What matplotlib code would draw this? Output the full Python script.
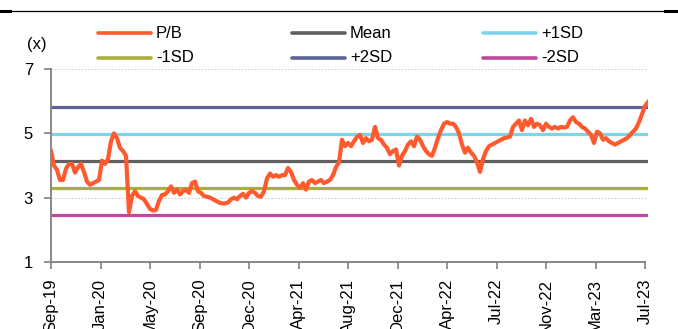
import matplotlib
matplotlib.use("Agg")
import matplotlib.pyplot as plt
import numpy as np
from matplotlib.lines import Line2D

plt.rcParams['font.family'] = ['Liberation Sans', 'DejaVu Sans']

# Weekly P/B readings, Sep-2019 .. Jul-2023
pb = [4.45, 4.0, 3.86, 3.55, 3.55, 3.9, 4.05, 4.05, 3.78, 3.95,
      4.05, 3.8, 3.5, 3.4, 3.45, 3.5, 3.55, 4.15, 4.05, 4.2,
      4.75, 5.0, 4.85, 4.55, 4.45, 4.3, 2.55, 3.05, 3.2, 3.05,
      3.0, 2.95, 2.8, 2.65, 2.6, 2.62, 2.9, 3.08, 3.1, 3.2,
      3.35, 3.15, 3.25, 3.1, 3.2, 3.25, 3.15, 3.45, 3.5, 3.2,
      3.15, 3.05, 3.03, 3.0, 2.95, 2.9, 2.85, 2.82, 2.82, 2.85,
      2.95, 3.0, 2.95, 3.05, 3.12, 3.0, 3.15, 3.2, 3.15, 3.05,
      3.03, 3.2, 3.6, 3.75, 3.65, 3.7, 3.65, 3.7, 3.7, 3.92,
      3.8, 3.55, 3.4, 3.3, 3.45, 3.25, 3.5, 3.55, 3.45, 3.5,
      3.55, 3.45, 3.5, 3.55, 3.7, 3.95, 4.1, 4.8, 4.6, 4.7,
      4.6, 4.75, 4.89, 4.95, 4.7, 4.85, 4.75, 4.8, 5.2, 4.85,
      4.8, 4.65, 4.55, 4.35, 4.45, 4.5, 4.0, 4.3, 4.45, 4.65,
      4.75, 4.6, 4.9, 4.8, 4.6, 4.45, 4.35, 4.3, 4.55, 4.85,
      5.1, 5.3, 5.35, 5.3, 5.3, 5.2, 5.0, 4.65, 4.4, 4.55,
      4.4, 4.3, 4.1, 3.8, 4.2, 4.45, 4.6, 4.65, 4.7, 4.75,
      4.8, 4.85, 4.87, 4.9, 5.2, 5.3, 5.4, 5.1, 5.4, 5.25,
      5.45, 5.2, 5.3, 5.25, 5.1, 5.3, 5.2, 5.15, 5.2, 5.15,
      5.2, 5.18, 5.2, 5.4, 5.5, 5.35, 5.3, 5.2, 5.15, 5.05,
      4.95, 4.7, 5.05, 5.0, 4.8, 4.85, 4.75, 4.7, 4.65, 4.7,
      4.75, 4.8, 4.85, 4.95, 5.05, 5.15, 5.35, 5.6, 5.85, 5.97]

mean_val = 4.15
sd_val = 0.84
bands = {
    'Mean': mean_val,
    '+1SD': mean_val + sd_val,
    '-1SD': mean_val - sd_val,
    '+2SD': mean_val + 2 * sd_val,
    '-2SD': mean_val - 2 * sd_val,
}
tick_labels = ['Sep-19', 'Jan-20', 'May-20', 'Sep-20', 'Dec-20', 'Apr-21',
               'Aug-21', 'Dec-21', 'Apr-22', 'Jul-22', 'Nov-22', 'Mar-23', 'Jul-23']
y_ticks = [1, 3, 5, 7]

colors = {
    'P/B': '#FF5A2E',
    'Mean': '#606060',
    '+1SD': '#80D4E8',
    '-1SD': '#A9AE3C',
    '+2SD': '#5C6399',
    '-2SD': '#C0489C',
}

W, H = 678, 329
fig = plt.figure(figsize=(W / 100, H / 100), dpi=100)
ax = fig.add_axes([51 / W, 1 - 262 / H, (648 - 51) / W, (262 - 69) / H])

x = np.arange(len(pb))
xmax = len(pb) - 1
tick_step = 16.5
tick_pos = np.arange(len(tick_labels)) * tick_step

lw = 2.3
for name in ['Mean', '+1SD', '-1SD', '+2SD', '-2SD']:
    ax.plot([0, xmax], [bands[name]] * 2, color=colors[name], lw=lw,
            solid_capstyle='butt', zorder=2)
ax.plot(x, pb, color=colors['P/B'], lw=3.0, zorder=3, solid_joinstyle='round')

ax.set_xlim(0, xmax)
ax.set_ylim(1, 7)
ax.set_yticks(y_ticks)
ax.set_xticks(tick_pos)
ax.set_xticklabels(tick_labels, rotation=90)
ax.tick_params(axis='both', labelsize=12, colors='#808080', labelcolor='black',
               length=5, width=1.2, direction='out')
ax.tick_params(axis='y', pad=8)
ax.tick_params(axis='x', pad=7)
ax.yaxis.grid(True, color='#D0D0D0', linestyle=(0, (1.5, 1.5)), lw=0.8)
ax.set_axisbelow(True)
for s in ['top', 'right']:
    ax.spines[s].set_visible(False)
for s in ['left', 'bottom']:
    ax.spines[s].set_color('#808080')
    ax.spines[s].set_linewidth(1.3)
ax.spines['bottom'].set_bounds(0, tick_pos[-1])

fig.text(37 / W, 1 - 45 / H, '(x)', fontsize=12, ha='center', va='center')

order = [['P/B', '-1SD'], ['Mean', '+2SD'], ['+1SD', '-2SD']]
col_x = [98, 292, 483]
row_y = [33, 58]
for cx, col in zip(col_x, order):
    for ry, name in zip(row_y, col):
        yy = 1 - ry / H
        fig.add_artist(Line2D([cx / W, (cx + 53) / W], [yy, yy], color=colors[name],
                              lw=2.6, solid_capstyle='round'))
        fig.text((cx + 58) / W, yy, name, fontsize=12, ha='left', va='center')

# top rule
fig.add_artist(Line2D([0, 1], [1 - 10.5 / H] * 2, color='black', lw=0.9))
fig.add_artist(Line2D([0, 10 / W], [1 - 11 / H] * 2, color='black', lw=2.2))
fig.add_artist(Line2D([665 / W, 1], [1 - 11 / H] * 2, color='black', lw=2.2))

fig.savefig('out.png', dpi=100)
